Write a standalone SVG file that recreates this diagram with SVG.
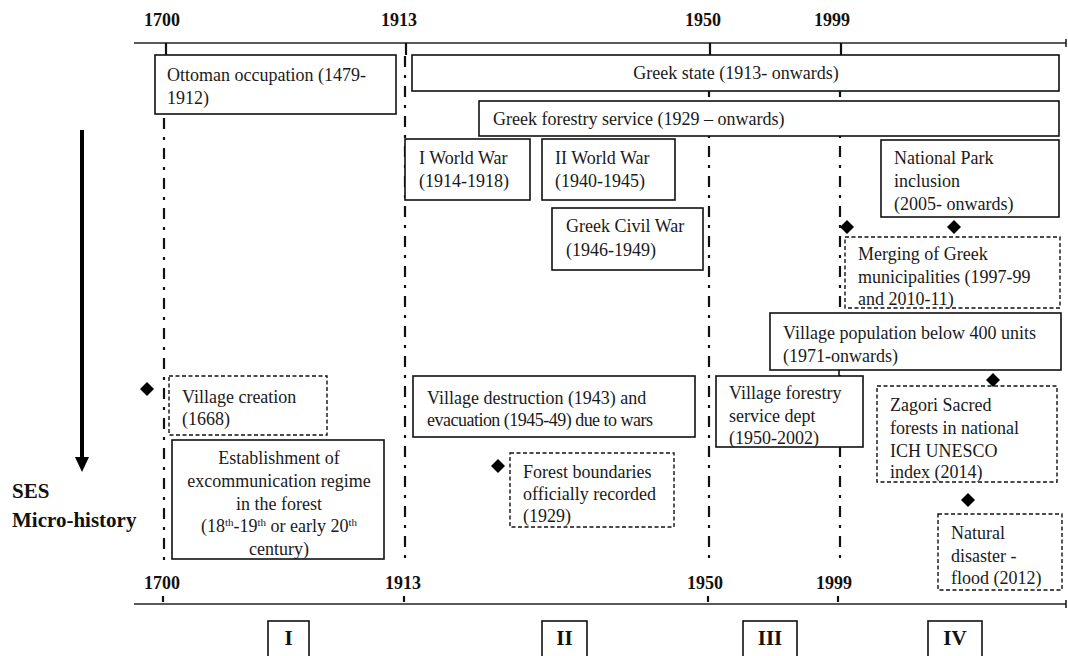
<svg xmlns="http://www.w3.org/2000/svg" width="1068" height="656" viewBox="0 0 1068 656">
<defs>
<style>
.t{font-family:"Liberation Serif","Times New Roman",serif;font-size:18px;fill:#1a1a1a}
.y{font-family:"Liberation Serif","Times New Roman",serif;font-size:18px;font-weight:bold;fill:#111}
.r{font-family:"Liberation Serif","Times New Roman",serif;font-size:21px;font-weight:bold;fill:#111}
.b{fill:#fff;stroke:#111;stroke-width:1.6}
.d{fill:#fff;stroke:#111;stroke-width:1.4;stroke-dasharray:4 2.5}
.dd{fill:none;stroke:#111;stroke-width:2.2;stroke-dasharray:11 8 3 8}
.ax{stroke:#222;stroke-width:1.6;fill:none}
.tk{stroke:#111;stroke-width:2.2}
.dm{fill:#000}
</style>
</defs>
<rect width="1068" height="656" fill="#fff"/>
<g id="connectors">
<line class="ax" x1="134" y1="43" x2="1066" y2="43"/>
<line class="ax" x1="1066" y1="39" x2="1066" y2="47"/>
<line class="ax" x1="134" y1="604" x2="1066" y2="604"/>
<line class="ax" x1="1066" y1="600" x2="1066" y2="608"/>
<line class="tk" x1="166" y1="43" x2="166" y2="55"/>
<line class="tk" x1="406" y1="43" x2="406" y2="55"/>
<line class="tk" x1="710" y1="43" x2="710" y2="55"/>
<line class="tk" x1="841" y1="43" x2="841" y2="55"/>
<line class="dd" x1="164" y1="118" x2="164" y2="566"/>
<line class="dd" x1="405" y1="56" x2="405" y2="566"/>
<line class="dd" x1="709" y1="56" x2="709" y2="566"/>
<line class="dd" x1="840" y1="56" x2="840" y2="566"/>
<line class="tk" x1="163" y1="596" x2="163" y2="602"/>
<line class="tk" x1="404" y1="596" x2="404" y2="602"/>
<line class="tk" x1="708" y1="596" x2="708" y2="602"/>
<line class="tk" x1="838" y1="596" x2="838" y2="602"/>
<line x1="839" y1="370" x2="839" y2="377" stroke="#111" stroke-width="1.6"/>
<line x1="82" y1="130" x2="82" y2="460" stroke="#000" stroke-width="4"/>
<path d="M75,457 L89,457 L82,472 z" fill="#000"/>
</g>
<g id="axis-labels">
<text class="y" x="162" y="26" text-anchor="middle">1700</text>
<text class="y" x="399" y="26" text-anchor="middle">1913</text>
<text class="y" x="703" y="26" text-anchor="middle">1950</text>
<text class="y" x="832" y="26" text-anchor="middle">1999</text>
<text class="y" x="162" y="589" text-anchor="middle">1700</text>
<text class="y" x="403" y="589" text-anchor="middle">1913</text>
<text class="y" x="705" y="589" text-anchor="middle">1950</text>
<text class="y" x="834" y="589" text-anchor="middle">1999</text>
<text class="y" x="12" y="498" style="font-size:21px">SES</text>
<text class="y" x="12" y="527" style="font-size:21px">Micro-history</text>
</g>
<g id="ottoman"><rect class="b" x="155" y="55" width="241" height="59"/><text class="t" x="167" y="81">Ottoman occupation (1479-</text><text class="t" x="167" y="104">1912)</text></g>
<g id="greek-state"><rect class="b" x="412" y="55" width="647" height="36"/><text class="t" x="736" y="79" text-anchor="middle">Greek state (1913- onwards)</text></g>
<g id="forestry-service"><rect class="b" x="479" y="101" width="580" height="35"/><text class="t" x="493" y="125">Greek forestry service (1929 – onwards)</text></g>
<g id="ww1"><rect class="b" x="405" y="139" width="125" height="61"/><text class="t" x="419" y="164">I World War</text><text class="t" x="419" y="187">(1914-1918)</text></g>
<g id="ww2"><rect class="b" x="542" y="139" width="133" height="61"/><text class="t" x="555" y="164">II World War</text><text class="t" x="555" y="187">(1940-1945)</text></g>
<g id="civil-war"><rect class="b" x="552" y="208" width="151" height="62"/><text class="t" x="566" y="232">Greek Civil War</text><text class="t" x="566" y="256">(1946-1949)</text></g>
<g id="national-park"><rect class="b" x="881" y="140" width="178" height="77"/><text class="t" x="894" y="164">National Park</text><text class="t" x="894" y="187">inclusion</text><text class="t" x="894" y="210">(2005- onwards)</text></g>
<g id="merging"><rect class="d" x="845" y="237" width="215" height="71"/><text class="t" x="858" y="260">Merging of Greek</text><text class="t" x="858" y="283">municipalities (1997-99</text><text class="t" x="858" y="305">and 2010-11)</text></g>
<g id="population"><rect class="b" x="770" y="313" width="291" height="57"/><text class="t" x="783" y="339">Village population below 400 units</text><text class="t" x="783" y="362">(1971-onwards)</text></g>
<g id="village-creation"><rect class="d" x="169" y="376" width="158" height="59"/><text class="t" x="182" y="403">Village creation</text><text class="t" x="182" y="425">(1668)</text></g>
<g id="destruction"><rect class="b" x="413" y="376" width="282" height="61"/><text class="t" x="427" y="404">Village destruction (1943) and</text><text class="t" x="427" y="426" textLength="226" lengthAdjust="spacing">evacuation (1945-49) due to wars</text></g>
<g id="village-forestry"><rect class="b" x="716" y="376" width="147" height="71"/><text class="t" x="729" y="399">Village forestry</text><text class="t" x="729" y="422">service dept</text><text class="t" x="729" y="444">(1950-2002)</text></g>
<g id="zagori"><rect class="d" x="877" y="386" width="180" height="96"/><text class="t" x="890" y="411">Zagori Sacred</text><text class="t" x="890" y="434">forests in national</text><text class="t" x="890" y="457">ICH UNESCO</text><text class="t" x="890" y="478">index  (2014)</text></g>
<g id="establishment"><rect class="b" x="172" y="440" width="212" height="119"/>
<text class="t" x="279" y="464" text-anchor="middle">Establishment of</text>
<text class="t" x="279" y="487" text-anchor="middle">excommunication regime</text>
<text class="t" x="279" y="510" text-anchor="middle">in the forest</text>
<text class="t" x="279" y="532" text-anchor="middle">(18<tspan dy="-6" style="font-size:11px">th</tspan><tspan dy="6">-19</tspan><tspan dy="-6" style="font-size:11px">th</tspan><tspan dy="6"> or early  20</tspan><tspan dy="-6" style="font-size:11px">th</tspan></text>
<text class="t" x="279" y="555" text-anchor="middle">century)</text></g>
<g id="forest-boundaries"><rect class="d" x="510" y="453" width="164" height="74"/><text class="t" x="523" y="478">Forest boundaries</text><text class="t" x="523" y="500">officially recorded</text><text class="t" x="523" y="522">(1929)</text></g>
<g id="natural-disaster"><rect class="d" x="938" y="514" width="124" height="76"/><text class="t" x="951" y="539">Natural</text><text class="t" x="951" y="562">disaster -</text><text class="t" x="951" y="584">flood (2012)</text></g>
<g id="markers">
<path class="dm" d="M147,382 L154,389 L147,396 L140,389 z"/>
<path class="dm" d="M498,459 L505,466 L498,473 L491,466 z"/>
<path class="dm" d="M847,220 L854,227 L847,234 L840,227 z"/>
<path class="dm" d="M954,220 L961,227 L954,234 L947,227 z"/>
<path class="dm" d="M993,373 L1000,380 L993,387 L986,380 z"/>
<path class="dm" d="M968,493 L975,500 L968,507 L961,500 z"/>
</g>
<g id="periods">
<rect class="b" x="268" y="621" width="41" height="45"/><text class="r" x="288.5" y="645" text-anchor="middle">I</text>
<rect class="b" x="542" y="621" width="45" height="45"/><text class="r" x="564.5" y="645" text-anchor="middle">II</text>
<rect class="b" x="743" y="621" width="54" height="45"/><text class="r" x="770" y="645" text-anchor="middle">III</text>
<rect class="b" x="928" y="621" width="54" height="45"/><text class="r" x="955" y="645" text-anchor="middle">IV</text>
</g>
</svg>
